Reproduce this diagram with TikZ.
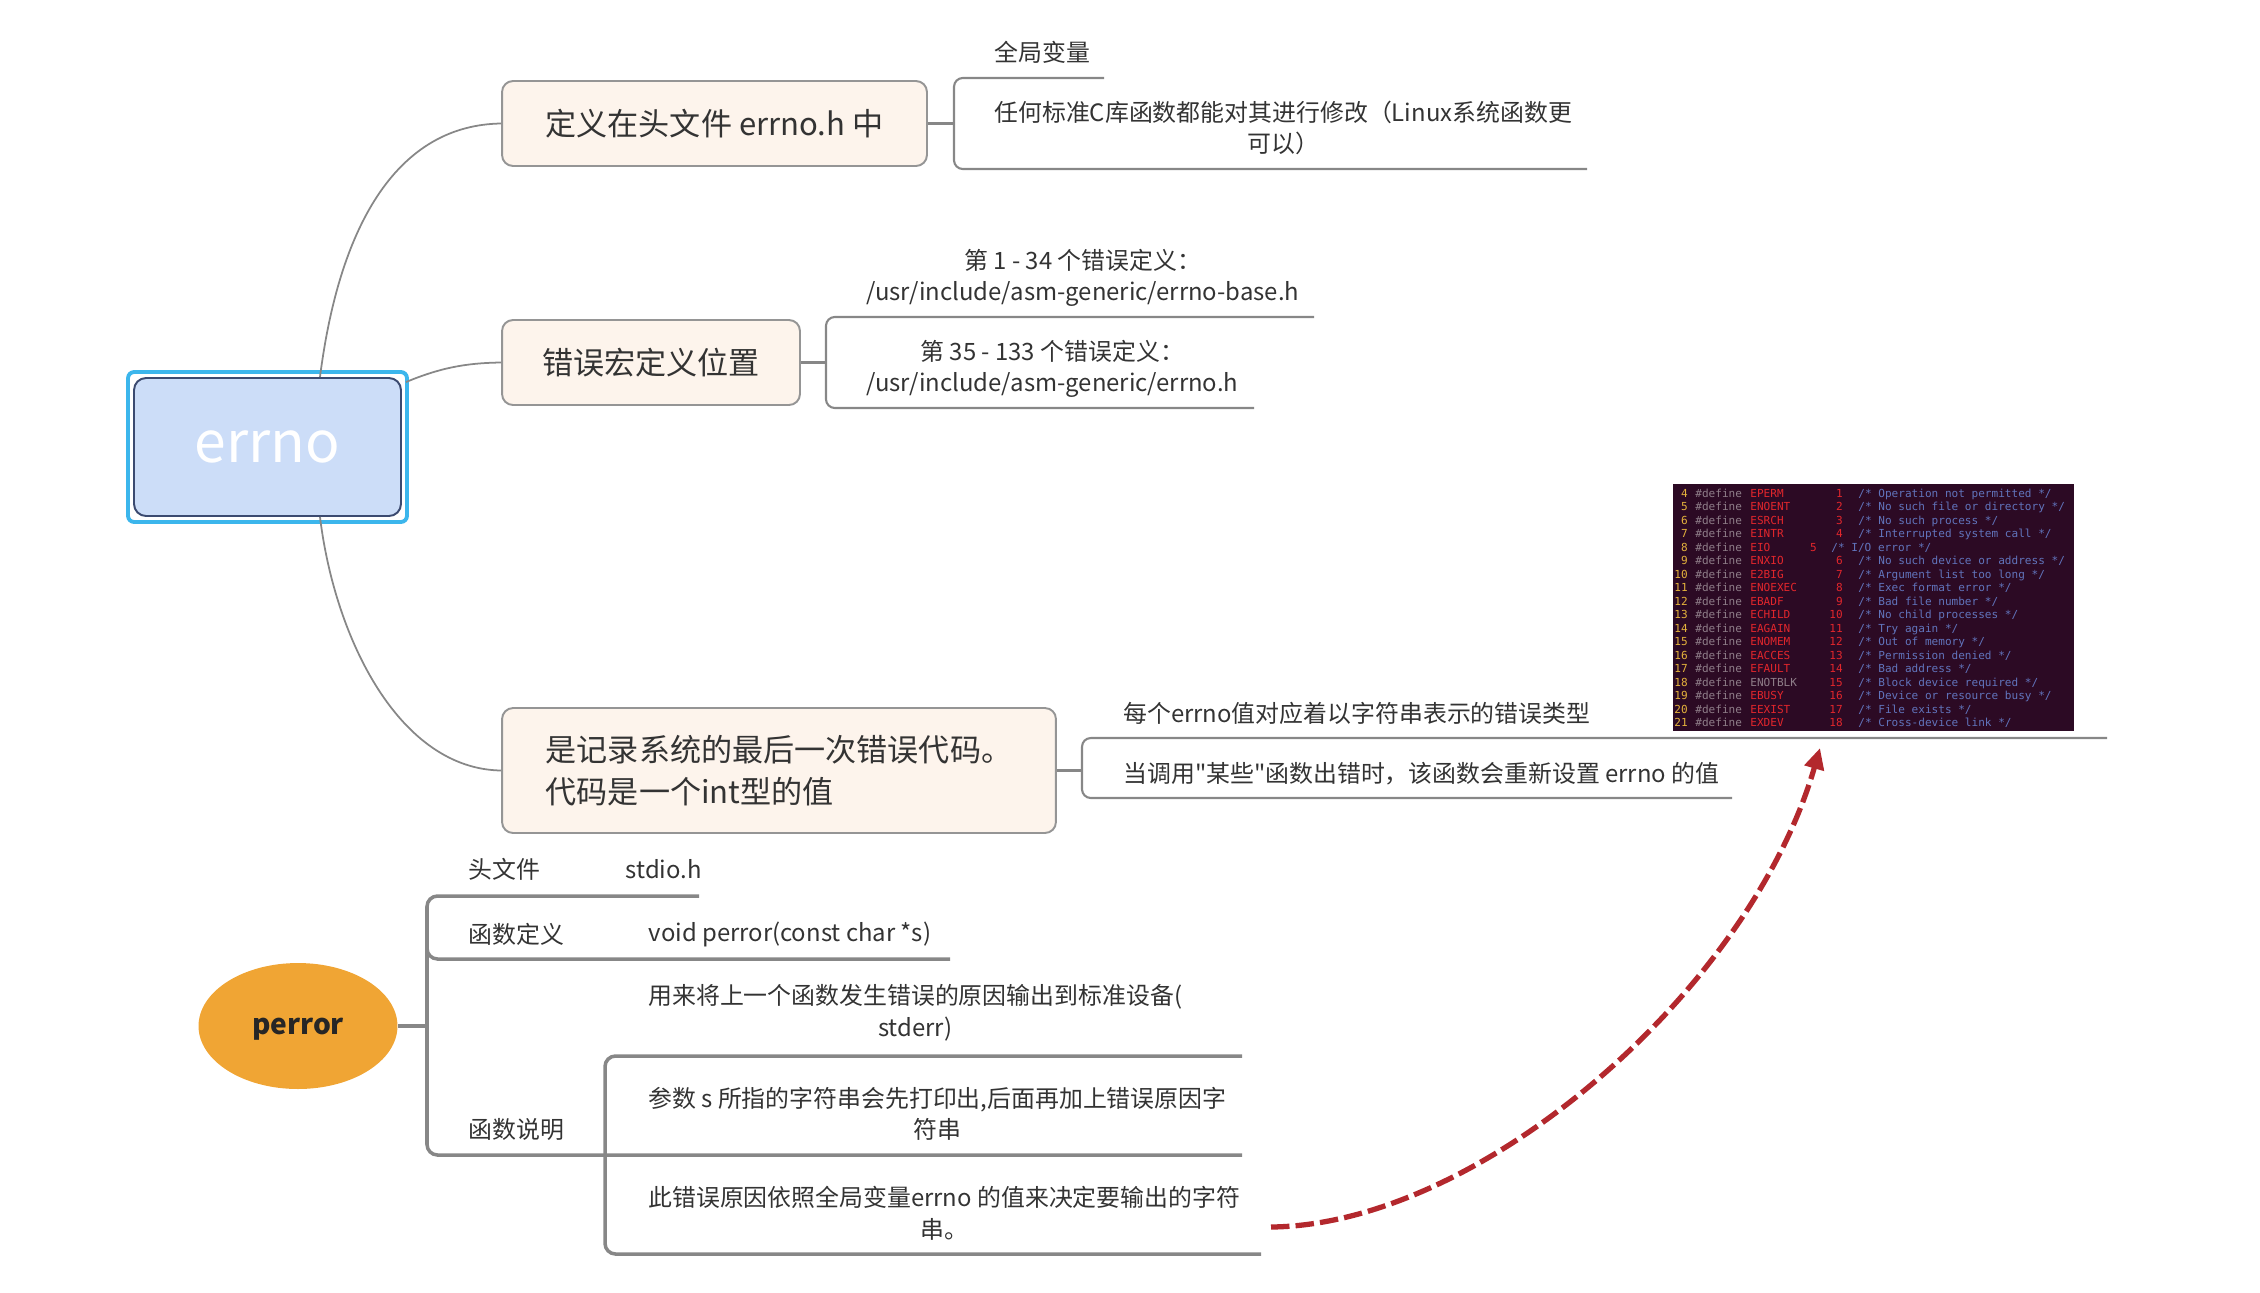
\documentclass[tikz,border=0pt]{standalone}
\usepackage{fontspec}
\setmainfont{Noto Sans CJK SC}[Ligatures=TeXOff]
\newfontfamily\termfont{DejaVu Sans Mono}
\usetikzlibrary{shapes.geometric,arrows.meta,positioning}

\definecolor{rootfill}{HTML}{CCDDF8}
\definecolor{rootline}{HTML}{3B4A70}
\definecolor{selblue}{HTML}{3CB6EC}
\definecolor{boxfill}{HTML}{FDF4EC}
\definecolor{boxline}{HTML}{959595}
\definecolor{linegray}{HTML}{878787}
\definecolor{txtgray}{HTML}{333333}
\definecolor{perrfill}{HTML}{F0A534}
\definecolor{arrowred}{HTML}{B3282D}
\definecolor{shotbg}{HTML}{2C0A24}
\definecolor{shotnum}{HTML}{E4B23C}
\definecolor{shotdef}{HTML}{8F7E89}
\definecolor{shotred}{HTML}{E2262C}
\definecolor{shotblue}{HTML}{6174BC}

\begin{document}
\begin{tikzpicture}
            [x=0.02cm, y=-0.02cm,
             root node/.style={rectangle,rounded corners=0.24cm,draw=rootline,line width=1.1pt,fill=rootfill,
               minimum width=5.34cm,minimum height=2.76cm,text=white,font=\fontsize{32.5pt}{38pt}\selectfont},
             topic node/.style={rectangle,rounded corners=0.22cm,draw=boxline,line width=1.1pt,fill=boxfill,
               minimum height=1.7cm,text=txtgray,align=left,font=\fontsize{17.7pt}{24pt}\selectfont},
             leaf node/.style={inner sep=0pt,text=txtgray,align=center,font=\fontsize{13.6pt}{18pt}\selectfont},
             perr node/.style={ellipse,fill=perrfill,minimum width=3.98cm,minimum height=2.52cm,inner sep=0pt,
               text depth=0pt,text=black!85,font=\bfseries\fontsize{16pt}{20pt}\selectfont},
             shot text/.style={inner sep=0pt,font=\termfont\fontsize{6.3pt}{7pt}\selectfont},
             branch/.style={draw=linegray,line width=1pt},
             rail/.style={draw=linegray,line width=1.2pt,rounded corners=5pt},
             heavy rail/.style={draw=linegray,line width=2pt,rounded corners=6pt},
             err arrow/.style={draw=arrowred,line width=3pt,dash pattern=on 10.5pt off 3.5pt,
               -{Stealth[length=12pt,width=11pt,inset=0pt]}}]
            \useasboundingbox (0,0) rectangle (2260,1292);

            % errno
            \node[root node] (errno) at (267.5,447) {errno};
            \draw[selblue,line width=2.2pt,rounded corners=0.12cm]
                ([shift={(-5,-5)}]errno.north west) rectangle ([shift={(5,5)}]errno.south east);

            \node[topic node, minimum width=8.5cm] (defbox) at (714.5,123.5) {定义在头文件 errno.h 中};
            \node[topic node, minimum width=5.96cm] (locbox) at (651,362.5) {错误宏定义位置};
            \node[topic node, minimum width=11.08cm, minimum height=2.5cm] (valbox) at (779,770.5)
                {是记录系统的最后一次错误代码。\\代码是一个int型的值};

            \draw[branch] ([xshift=1.05cm]errno.north) .. controls (340,220) and (400,125) .. (defbox.west);
            \draw[branch] ([shift={(4,5)}]errno.north east) .. controls (440,368) and (465,363) .. (locbox.west);
            \draw[branch] ([xshift=1.05cm]errno.south) .. controls (335,640) and (400,769) .. (valbox.west);

            % defined in errno.h
            \node[leaf node, anchor=west] (glob) at (994,52) {全局变量};
            \node[leaf node, anchor=west] (anylib) at (994,128) {任何标准C库函数都能对其进行修改（Linux系统函数更\\可以）};
            \draw[rail] (1104,78) -- (954,78) -- (954,169) -- (1587,169);
            \draw[rail] (defbox.east) -- ++(27,0);

            % where the macros live
            \node[leaf node, anchor=west] (base) at (866,278) {第 1 - 34 个错误定义：\\/usr/include/asm-generic/errno-base.h};
            \node[leaf node, anchor=west] (gen) at (866,369) {第 35 - 133 个错误定义：\\/usr/include/asm-generic/errno.h};
            \draw[rail] (1314,317) -- (826,317) -- (826,408) -- (1254,408);
            \draw[rail] (locbox.east) -- ++(26,0);

            % last error value
            \node[leaf node, anchor=west] (strtype) at (1123,713) {每个errno值对应着以字符串表示的错误类型};
            \node[leaf node, anchor=west] (reset) at (1123,774) {当调用"某些"函数出错时，该函数会重新设置 errno 的值};
            \draw[rail] (2107,738) -- (1082,738) -- (1082,798) -- (1732,798);
            \draw[rail] (valbox.east) -- ++(26,0);

            % screenshot of errno-base.h
            \node[fill=shotbg, minimum width=8.02cm, minimum height=4.94cm, inner sep=0pt] (shot) at (1873.5,607.5) {};
            \foreach \n/\mac/\v/\cmt/\vx/\cx/\mc in {
                4/EPERM/1/Operation not permitted/1843/1858/shotred,
                5/ENOENT/2/No such file or directory/1843/1858/shotred,
                6/ESRCH/3/No such process/1843/1858/shotred,
                7/EINTR/4/Interrupted system call/1843/1858/shotred,
                8/EIO/5/I\slash O error/1817/1831/shotred,
                9/ENXIO/6/No such device or address/1843/1858/shotred,
                10/E2BIG/7/Argument list too long/1843/1858/shotred,
                11/ENOEXEC/8/Exec format error/1843/1858/shotred,
                12/EBADF/9/Bad file number/1843/1858/shotred,
                13/ECHILD/10/No child processes/1843/1858/shotred,
                14/EAGAIN/11/Try again/1843/1858/shotred,
                15/ENOMEM/12/Out of memory/1843/1858/shotred,
                16/EACCES/13/Permission denied/1843/1858/shotred,
                17/EFAULT/14/Bad address/1843/1858/shotred,
                18/ENOTBLK/15/Block device required/1843/1858/shotdef,
                19/EBUSY/16/Device or resource busy/1843/1858/shotred,
                20/EEXIST/17/File exists/1843/1858/shotred,
                21/EXDEV/18/Cross-device link/1843/1858/shotred}{
                \node[shot text, anchor=base east, text=shotnum] (num\n) at (1688,{497+(\n-4)*13.5}) {\n};
                \node[shot text, anchor=base west, text=shotdef] (def\n) at (1695,{497+(\n-4)*13.5}) {\#define};
                \node[shot text, anchor=base west, text=\mc] (mac\n) at (1750,{497+(\n-4)*13.5}) {\mac};
                \node[shot text, anchor=base east, text=shotred] (val\n) at (\vx,{497+(\n-4)*13.5}) {\v};
                \node[shot text, anchor=base west, text=shotblue] (cmt\n) at (\cx,{497+(\n-4)*13.5}) {/* \cmt{} */};
            }

            % perror
            \node[perr node] (perr) at (298,1026) {perror};
            \node[leaf node, anchor=west] (hdr) at (468,869) {头文件};
            \node[leaf node, right=1.7cm of hdr] (stdio) {stdio.h};
            \node[leaf node, anchor=west] (fdef) at (468,934) {函数定义};
            \node[leaf node, right=1.68cm of fdef] (proto) {void perror(const char *s)};
            \node[leaf node, anchor=west] (fdesc) at (468,1129) {函数说明};
            \node[leaf node, anchor=west] (useout) at (648,1013) {用来将上一个函数发生错误的原因输出到标准设备(\\stderr)};
            \node[leaf node, anchor=west] (argmsg) at (648,1114) {参数 s 所指的字符串会先打印出,后面再加上错误原因字\\符串};
            \node[leaf node, anchor=west] (errmsg) at (648,1213) {此错误原因依照全局变量errno 的值来决定要输出的字符\\串。};

            \draw[heavy rail] (perr.east) -- ++(29,0);
            \draw[heavy rail] (699,896) -- (427,896) -- (427,1155) -- (1242,1155);
            \draw[heavy rail] (427,925) |- (950,959);
            \draw[heavy rail] (1242,1056) -- (605,1056) -- (605,1254) -- (1261,1254);

            \coordinate (arrS) at (1271,1227);
            \coordinate (arrE) at (1820,748);
            \draw[err arrow] (arrS) .. controls (1480,1225) and (1750,990) .. (arrE);
         \end{tikzpicture}
\end{document}
